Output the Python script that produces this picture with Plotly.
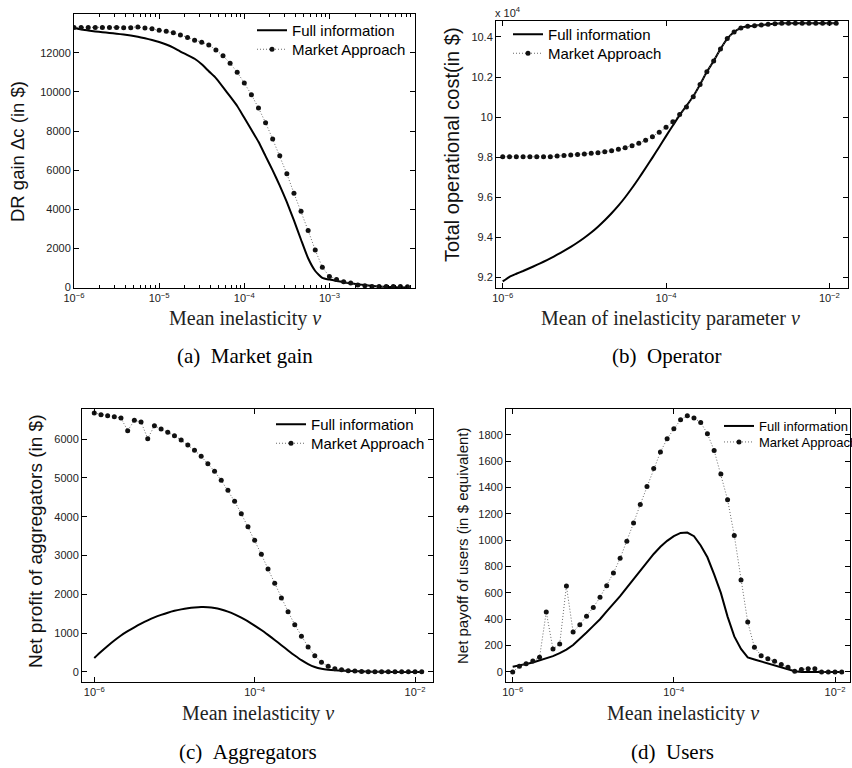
import plotly.graph_objects as go

# ---------------- data ----------------
# mean inelasticity grid (12 points per decade)
V = [1.000e-06, 1.212e-06, 1.468e-06, 1.778e-06, 2.154e-06, 2.610e-06, 3.162e-06, 3.831e-06,
     4.642e-06, 5.623e-06, 6.813e-06, 8.254e-06,
     1.000e-05, 1.212e-05, 1.468e-05, 1.778e-05, 2.154e-05, 2.610e-05, 3.162e-05, 3.831e-05,
     4.642e-05, 5.623e-05, 6.813e-05, 8.254e-05,
     1.000e-04, 1.212e-04, 1.468e-04, 1.778e-04, 2.154e-04, 2.610e-04, 3.162e-04, 3.831e-04,
     4.642e-04, 5.623e-04, 6.813e-04, 8.254e-04,
     1.000e-03, 1.212e-03, 1.468e-03, 1.778e-03, 2.154e-03, 2.610e-03, 3.162e-03, 3.831e-03,
     4.642e-03, 5.623e-03, 6.813e-03, 8.254e-03,
     1.000e-02, 1.212e-02]

# (a) DR gain
A_FULL = [13270, 13200, 13150, 13100, 13060, 13020, 12980, 12940, 12890, 12830, 12750, 12660,
          12560, 12430, 12270, 12070, 11890, 11700, 11420, 11060, 10710, 10250, 9770, 9280,
          8680, 8070, 7450, 6720, 5990, 5210, 4360, 3430, 2440, 1490, 840, 490,
          400, 330, 270, 210, 165, 120, 80, 50, 30, 15, 5, 0]
A_MARKET = [13300, 13300, 13300, 13300, 13300, 13300, 13300, 13290, 13290, 13320, 13270, 13230,
            13160, 13110, 13030, 12920, 12790, 12650, 12550, 12410, 12150, 11850, 11470, 11010,
            10460, 9860, 9180, 8430, 7590, 6740, 5810, 4820, 3900, 2910, 1910, 1030,
            560, 410, 290, 220, 120, 85, 50, 50, 50, 50, 50, 35]

# (b) total operational cost (in $)
B_FULL = [91800, 92030, 92180, 92320, 92470, 92620, 92780, 92950, 93130, 93320, 93520, 93740,
          93980, 94240, 94530, 94850, 95200, 95580, 96000, 96460, 96950, 97460, 97980, 98510,
          99050, 99580, 100100, 100560, 101040, 101630, 102260, 102800, 103400, 103920, 104250, 104450,
          104530, 104560, 104600, 104630, 104660, 104680, 104680, 104680, 104680, 104680, 104680, 104680,
          104680, 104680]
B_MARKET = [98020, 98020, 98020, 98020, 98020, 98020, 98020, 98020, 98060, 98080, 98110, 98130,
            98160, 98190, 98220, 98270, 98320, 98390, 98470, 98570, 98690, 98840, 99020, 99240,
            99490, 99770, 100130, 100510, 101010, 101630, 102260, 102800, 103400, 103920, 104250, 104450,
            104530, 104560, 104600, 104630, 104660, 104680, 104680, 104680, 104680, 104680, 104680, 104680,
            104680, 104680]

# (c) aggregators
C_FULL = [360, 520, 670, 810, 940, 1050, 1150, 1245, 1330, 1405, 1470, 1527,
          1575, 1612, 1642, 1662, 1673, 1670, 1650, 1610, 1555, 1485, 1400, 1305,
          1195, 1080, 955, 825, 690, 555, 425, 305, 205, 130, 85, 60,
          45, 35, 28, 20, 15, 10, 7, 5, 3, 2, 1, 0, 0, 0]
C_MARKET = [6670, 6627, 6601, 6575, 6541, 6215, 6481, 6438, 6009, 6343, 6258, 6172,
            6086, 5974, 5845, 5708, 5554, 5365, 5167, 4936, 4678, 4395, 4077, 3742,
            3391, 3030, 2652, 2283, 1906, 1554, 1219, 918, 644, 421, 249, 146,
            86, 60, 34, 26, 10, 8, 6, 5, 5, 5, 5, 5, 5, 5]

# (d) users
D_FULL = [40, 48, 60, 72, 87, 102, 120, 143, 170, 205, 250, 300,
          350, 400, 460, 515, 575, 640, 705, 770, 835, 895, 950, 995,
          1030, 1055, 1058, 1030, 960, 870, 740, 600, 420, 270, 175, 110,
          95, 80, 65, 50, 35, 20, 5, 0, 0, 0, 0, 0, 0, 0]
D_MARKET = [0, 43, 63, 83, 111, 455, 174, 212, 652, 303, 359, 422,
            490, 566, 655, 751, 862, 991, 1130, 1271, 1408, 1544, 1668, 1770,
            1845, 1914, 1944, 1926, 1893, 1807, 1681, 1502, 1307, 1036, 698, 379,
            187, 124, 101, 81, 56, 35, 5, 18, 25, 25, 0, 0, 0, 0]

SERIES = ["Full information", "Market Approach"]

X_TICKS_A = [1e-6, 1e-5, 1e-4, 1e-3]
X_TEXT_A = ["10<sup>−6</sup>", "10<sup>−5</sup>", "10<sup>−4</sup>", "10<sup>−3</sup>"]
X_MINOR_A = [m * d for d in [1e-6, 1e-5, 1e-4, 1e-3] for m in [2, 3, 4, 5, 6, 7, 8, 9]]
X_TICKS = [1e-6, 1e-4, 1e-2]
X_TEXT = ["10<sup>−6</sup>", "10<sup>−4</sup>", "10<sup>−2</sup>"]

Y_TICKS_A = [0, 2000, 4000, 6000, 8000, 10000, 12000]
Y_TEXT_A = ["0", "2000", "4000", "6000", "8000", "10000", "12000"]
Y_TICKS_B = [92000, 94000, 96000, 98000, 100000, 102000, 104000]
Y_TEXT_B = ["9.2", "9.4", "9.6", "9.8", "10", "10.2", "10.4"]
Y_TICKS_C = [0, 1000, 2000, 3000, 4000, 5000, 6000]
Y_TEXT_C = ["0", "1000", "2000", "3000", "4000", "5000", "6000"]
Y_TICKS_D = [0, 200, 400, 600, 800, 1000, 1200, 1400, 1600, 1800]
Y_TEXT_D = ["0", "200", "400", "600", "800", "1000", "1200", "1400", "1600", "1800"]

# ---------------- figure ----------------
W, H = 852, 768
SANS = "Liberation Sans, Arial, sans-serif"
SERIF = "Liberation Serif, Times New Roman, serif"


def px_x(p):
    return p / W


def px_y(p):
    return 1 - p / H


fig = go.Figure()

panels = [
    ("x", "y", V[:48], A_FULL, A_MARKET, "legend", "legend2", "spline"),
    ("x2", "y2", V, B_FULL, B_MARKET, "legend3", "legend4", "spline"),
    ("x3", "y3", V, C_FULL, C_MARKET, "legend5", "legend6", "spline"),
    ("x4", "y4", V, D_FULL, D_MARKET, "legend7", "legend8", "linear"),
]
for xa, ya, xs, full, market, leg1, leg2, shape in panels:
    fig.add_trace(go.Scatter(x=xs, y=full, name=SERIES[0], mode="lines",
                             line=dict(color="black", width=2, shape=shape, smoothing=0.5),
                             xaxis=xa, yaxis=ya, legend=leg1))
    fig.add_trace(go.Scatter(x=xs, y=market, name=SERIES[1], mode="lines+markers",
                             line=dict(color="#6a6a6a", width=1, dash="1px,2px"),
                             marker=dict(color="#111111", size=5),
                             xaxis=xa, yaxis=ya, legend=leg2))

tickfont = dict(family=SANS, size=11, color="#222222")
common = dict(showline=True, linecolor="black", linewidth=1, mirror="ticks",
              ticks="inside", ticklen=5, tickcolor="black", showgrid=False,
              zeroline=False, tickfont=tickfont)


def xax(dom, rng, anchor, vals, text, minor=None):
    d = dict(common, type="log", domain=[px_x(dom[0]), px_x(dom[1])], range=rng,
             anchor=anchor, tickmode="array", tickvals=vals, ticktext=text)
    if minor:
        d["minor"] = dict(ticks="inside", ticklen=3, tickcolor="black",
                          tickmode="array", tickvals=minor, showgrid=False)
    return d


def yax(dom, rng, anchor, vals, text):
    return dict(common, domain=[px_y(dom[1]), px_y(dom[0])], range=rng, anchor=anchor,
                tickmode="array", tickvals=vals, ticktext=text)


layout = dict(
    width=W, height=H,
    margin=dict(l=0, r=0, t=0, b=0, autoexpand=False),
    paper_bgcolor="white", plot_bgcolor="white",
    xaxis=xax((74, 415), [-6, -1.995], "y", X_TICKS_A, X_TEXT_A, X_MINOR_A),
    yaxis=yax((14, 288), [-30, 13990], "x", Y_TICKS_A, Y_TEXT_A),
    xaxis2=xax((496, 848), [-6.082, -1.772], "y2", X_TICKS, X_TEXT),
    yaxis2=yax((21, 288), [91470, 104797], "x2", Y_TICKS_B, Y_TEXT_B),
    xaxis3=xax((82, 433), [-6.153, -1.776], "y3", X_TICKS, X_TEXT),
    yaxis3=yax((409, 682), [-258, 6773], "x3", Y_TICKS_C, Y_TEXT_C),
    xaxis4=xax((506, 850), [-6.083, -1.814], "y4", X_TICKS, X_TEXT),
    yaxis4=yax((409, 682), [-76, 1995], "x4", Y_TICKS_D, Y_TEXT_D),
    showlegend=True,
)


def legend(xp, yp, size):
    return dict(x=px_x(xp), y=px_y(yp), xanchor="left", yanchor="top",
                bgcolor="rgba(0,0,0,0)", borderwidth=0,
                font=dict(family=SANS, size=size, color="black"))


layout["legend"] = legend(252, 14, 15)
layout["legend2"] = legend(252, 33, 15)
layout["legend3"] = legend(508, 18, 15)
layout["legend4"] = legend(508, 37, 15)
layout["legend5"] = legend(271, 408, 15)
layout["legend6"] = legend(271, 427, 15)
layout["legend7"] = legend(719, 411, 13)
layout["legend8"] = legend(719, 427, 13)

ann = []


def text(x, y, s, size, family, angle=0, color="black"):
    ann.append(dict(x=px_x(x), y=px_y(y), xref="paper", yref="paper", text=s,
                    showarrow=False, textangle=angle, xanchor="center", yanchor="middle",
                    font=dict(family=family, size=size, color=color)))


# y-axis titles
text(18, 152, "DR gain Δc (in $)", 18.5, SANS, -90, "#111")
text(452, 145, "Total operational cost(in $)", 20, SANS, -90, "#111")
text(35, 542, "Net profit of aggregators (in $)", 19, SANS, -90, "#111")
text(462, 546, "Net payoff of users (in $ equivalent)", 15, SANS, -90, "#111")
# x-axis titles
text(245, 319, "Mean inelasticity <i>v</i>", 20, SERIF, 0, "#222")
text(670, 319, "Mean of inelasticity parameter <i>v</i>", 20, SERIF, 0, "#222")
text(258, 713, "Mean inelasticity <i>v</i>", 20, SERIF, 0, "#222")
text(683, 713, "Mean inelasticity <i>v</i>", 20, SERIF, 0, "#222")
# captions
text(245, 356, "(a)\u00a0\u00a0Market gain", 21, SERIF)
text(667, 356, "(b)\u00a0\u00a0Operator", 21, SERIF)
text(248, 752, "(c)\u00a0\u00a0Aggregators", 21, SERIF)
text(672, 752, "(d)\u00a0\u00a0Users", 21, SERIF)
# exponent label of panel (b)
text(508, 12, "x 10<sup>4</sup>", 11, SANS, 0, "#222")

layout["annotations"] = ann
fig.update_layout(**layout)

fig.write_html("out.html", config={"displayModeBar": False},
               post_script="document.body.style.margin='0';")
